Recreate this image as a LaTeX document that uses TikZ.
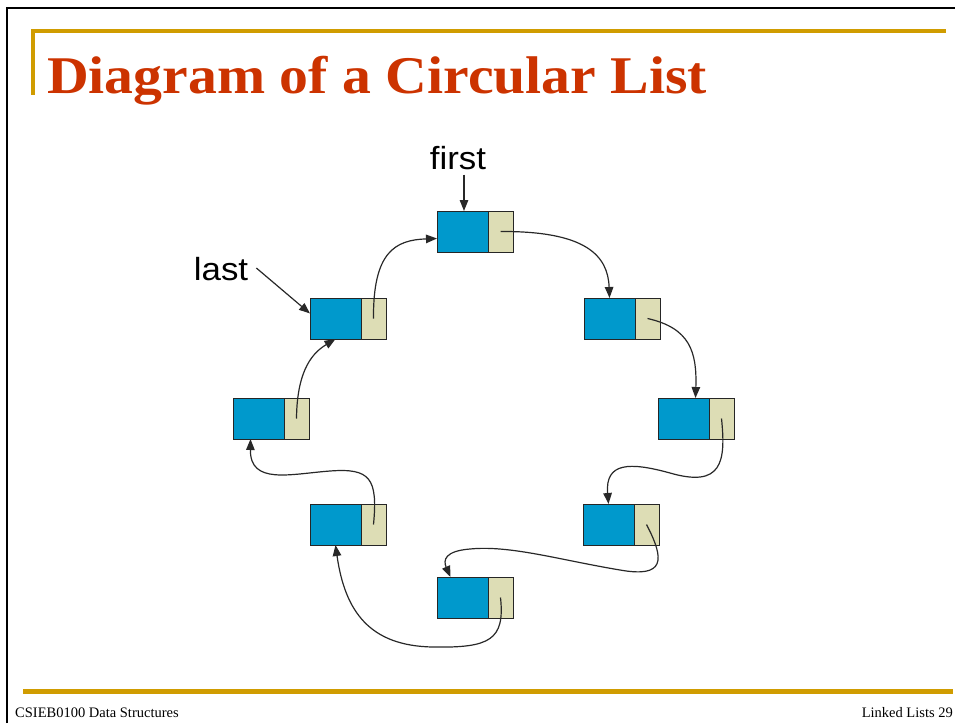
\documentclass[tikz,border=0pt]{standalone}
\usepackage{fontspec}
\setmainfont{Liberation Serif}
\newfontfamily\labelfont{Liberation Sans}
\usetikzlibrary{arrows.meta}
\definecolor{titlered}{RGB}{204,51,0}
\definecolor{gold}{RGB}{208,156,0}
\definecolor{cellblue}{RGB}{0,153,204}
\definecolor{cellbeige}{RGB}{221,221,181}
\definecolor{wire}{RGB}{40,40,40}

% one list node: data part (blue) and link part (beige)
\newcommand\listnode[3]{%
  \node[datacell] (b#1) at (#2,#3) {};
  \node[linkcell] (c#1) at (b#1.east) {};}

\begin{document}
\begin{tikzpicture}[x=1pt,y=-1pt,
  datacell/.style={draw=black!85, line width=0.9pt, fill=cellblue,
    minimum width=51pt, minimum height=41pt, inner sep=0pt, outer sep=0pt,
    anchor=north west},
  linkcell/.style={draw=black!85, line width=0.9pt, fill=cellbeige,
    minimum width=25pt, minimum height=41pt, inner sep=0pt, outer sep=0pt,
    anchor=west},
  ptr/.style={draw=wire, line width=1.2pt, -{Triangle[length=11pt,width=8.5pt]}},
  rule/.style={draw=gold, line width=4pt},
  ptrlabel/.style={font=\labelfont\fontsize{32}{36}\selectfont, inner sep=0pt, anchor=base},
]
\useasboundingbox (0,0) rectangle (955,723);
\clip (0,0) rectangle (955,723);

% slide frame
\draw[black, line width=2pt] (7,723) -- (7,8) -- (956,8);

% title rules
\draw[rule] (31,31) -- (946,31);
\draw[rule] (33,29) -- (33,95);
\draw[draw=gold, line width=5pt] (23,691.5) -- (953,691.5);

% title
\node[anchor=base west, text=titlered, inner sep=0pt] (title) at (47,93)
  {\scalebox{1.09}[1]{\fontsize{53}{60}\selectfont\bfseries Diagram of a Circular List}};

% footer
\node[anchor=base west, inner sep=0pt] (course) at (15,717)
  {\fontsize{14.5}{16}\selectfont CSIEB0100 Data Structures};
\node[anchor=base east, inner sep=0pt] (page) at (953,717)
  {\fontsize{14.5}{16}\selectfont Linked Lists 29};

% the eight nodes of the ring
\listnode{1}{437}{211}
\listnode{2}{584}{298}
\listnode{3}{658}{398}
\listnode{4}{583}{504}
\listnode{5}{437}{577}
\listnode{6}{310}{504}
\listnode{7}{233}{398}
\listnode{8}{310}{298}

% external pointers
\node[ptrlabel] (first) at (458,169) {\scalebox{1.09}[1]{first}};
\node[ptrlabel] (last) at (221,280) {\scalebox{1.09}[1]{last}};
\draw[ptr] ([yshift=-5pt]first.south -| 464,0) -- (464,211);
\draw[ptr] ([xshift=8pt,yshift=12pt]last.base east) -- ([yshift=5pt]b8.west);

% links between consecutive nodes
\draw[ptr] (c1.center) .. controls (585,231) and (608,255) .. (b2.north);
\draw[ptr] (c2.center) .. controls (690,328) and (697,352) .. ([xshift=12pt]b3.north);
\draw[ptr] (c3.center) .. controls (726,462) and (722,488) .. (670,473)
                       .. controls (630,462) and (605,462) .. (b4.north);
\draw[ptr] (c4.center) .. controls (665,560) and (665,578) .. (620,570)
                       .. controls (560,560) and (510,545) .. (470,549)
                       .. controls (445,551) and (443,560) .. ([xshift=-12pt]b5.north);
\draw[ptr] (c5.center) .. controls (505,640) and (490,648) .. (433,647)
                       .. controls (370,646) and (345,612) .. (b6.south);
\draw[ptr] (c6.center) .. controls (378,478) and (370,468) .. (330,471)
                       .. controls (290,474) and (250,485) .. ([xshift=-8pt]b7.south);
\draw[ptr] (c7.center) .. controls (297,368) and (314,352) .. (b8.south);
\draw[ptr] (c8.center) .. controls (373,252) and (395,240) .. ([yshift=-7pt]b1.west);
\end{tikzpicture}
\end{document}
